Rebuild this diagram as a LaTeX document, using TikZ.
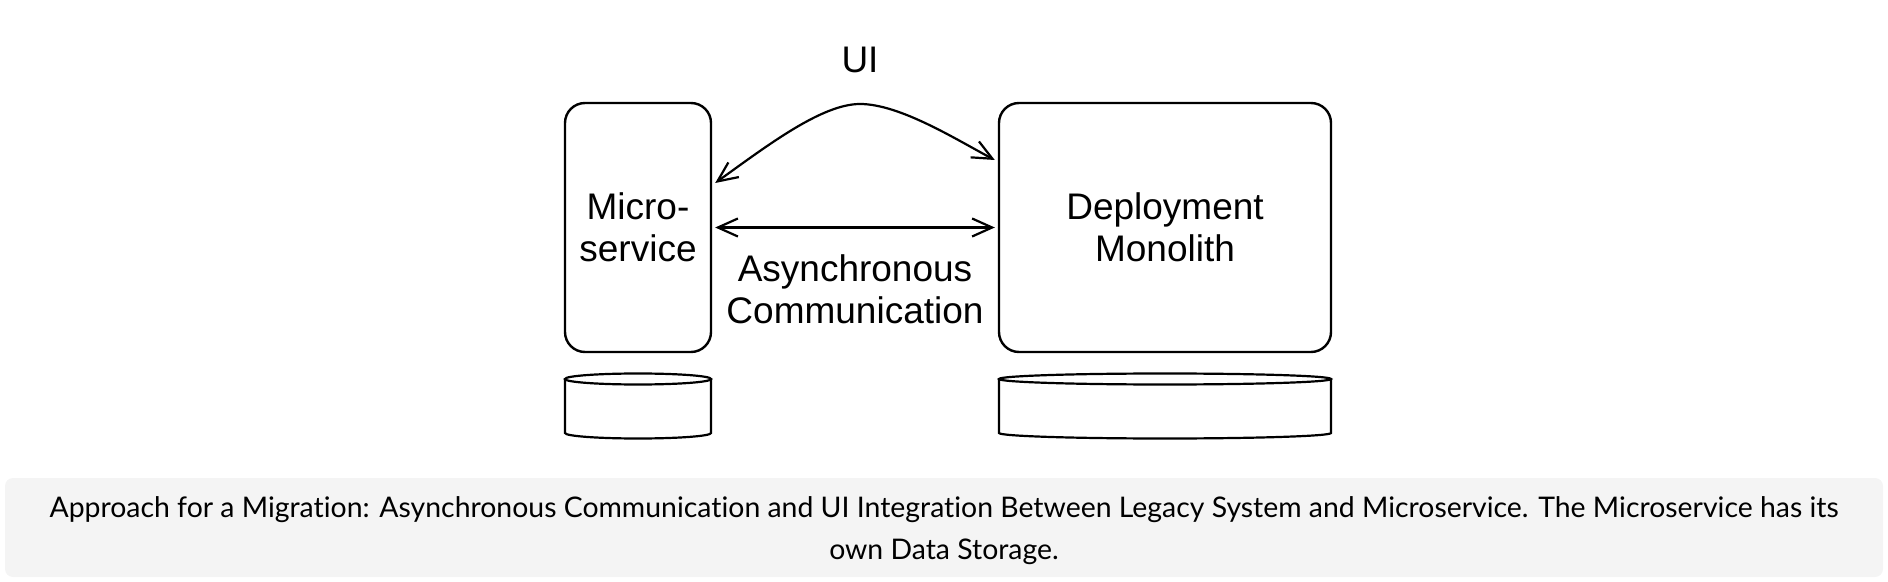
\documentclass[tikz,border=0pt]{standalone}
\usepackage{fontspec}
\setmainfont{Liberation Sans}
\newfontfamily\capfont[Ligatures={NoCommon}]{Lato}
\usetikzlibrary{arrows.meta,calc}
\definecolor{capgray}{HTML}{F4F4F4}
\begin{document}
\begin{tikzpicture}[x=0.5pt,y=-0.5pt,
  box/.style={draw, line width=1.2pt, rounded corners=10pt, inner sep=0pt, align=center,
    font=\fontsize{18.5}{21}\selectfont},
  lbl/.style={font=\fontsize{18.5}{21}\selectfont, align=center, inner sep=0pt},
  arr/.style={line width=1.1pt, {Straight Barb[length=10pt,width=9pt,line width=1.1pt]}-{Straight Barb[length=10pt,width=9pt,line width=1.1pt]}},
  cyl/.style={draw, line width=1.1pt},
  caption/.style={font=\capfont\fontsize{14.2}{21}\selectfont, align=center, inner sep=0pt}]
\useasboundingbox (0,0) rectangle (1888,582);
% caption background
\fill[capgray, rounded corners=4pt] (5,478) rectangle (1883,577);
\node[caption] (cap) at (944,531) {Approach for a Migration: Asynchronous Communication and UI Integration Between Legacy System and Microservice. The Microservice has its\\own Data Storage.};
% boxes
\node[box, minimum width=73pt, minimum height=124.5pt] (micro) at (638,227.5) {Micro-\\service};
\node[box, minimum width=166pt, minimum height=124.5pt] (mono) at (1165,227.5) {Deployment\\Monolith};
% labels
\node[lbl] (ui) at (860,60) {UI};
\node[lbl] (async) at (855,289) {Asynchronous\\Communication};
% arrows
\draw[arr] ($(micro.east)+(3,0)$) -- ($(mono.west)+(-3,0)$);
\draw[arr] ($(micro.east)+(3,-44.5)$) .. controls (768,145) and (822,104) .. (860,104)
  .. controls (900,104) and (957,140) .. ($(mono.west)+(-3,-67.5)$);
% cylinders
\draw[cyl] (638,379) ellipse[x radius=73, y radius=5.5];
\draw[cyl] (565,379) -- (565,433) arc[start angle=180, end angle=0, x radius=73, y radius=5.5] -- (711,379);
\draw[cyl] (1165,379) ellipse[x radius=166, y radius=5.5];
\draw[cyl] (999,379) -- (999,433) arc[start angle=180, end angle=0, x radius=166, y radius=5.5] -- (1331,379);
\end{tikzpicture}
\end{document}
